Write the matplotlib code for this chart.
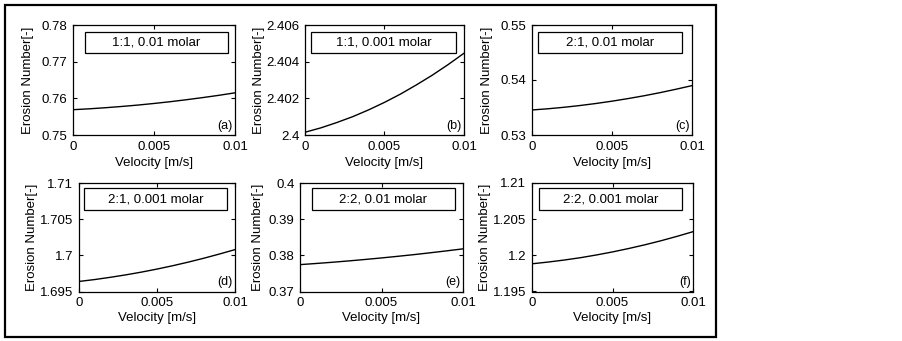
import matplotlib
matplotlib.use('Agg')
import matplotlib.pyplot as plt
from matplotlib.patches import Rectangle

plt.rcParams['font.family'] = ['Liberation Sans', 'DejaVu Sans']

# ---------------- data ----------------
velocity = [0.000, 0.001, 0.002, 0.003, 0.004, 0.005, 0.006, 0.007, 0.008, 0.009, 0.010]

en_a = [0.75690, 0.75714, 0.75744, 0.75778, 0.75816, 0.75860, 0.75908, 0.75962, 0.76020, 0.76082, 0.76150]
en_b = [2.40015, 2.40039, 2.40068, 2.40100, 2.40137, 2.40178, 2.40223, 2.40273, 2.40326, 2.40384, 2.40446]
en_c = [0.53455, 0.53477, 0.53504, 0.53536, 0.53573, 0.53615, 0.53662, 0.53713, 0.53770, 0.53832, 0.53898]
en_d = [1.69639, 1.69665, 1.69696, 1.69730, 1.69768, 1.69810, 1.69856, 1.69906, 1.69960, 1.70018, 1.70079]
en_e = [0.37743, 0.37775, 0.37809, 0.37846, 0.37886, 0.37928, 0.37973, 0.38020, 0.38071, 0.38124, 0.38179]
en_f = [1.19883, 1.19907, 1.19935, 1.19967, 1.20005, 1.20047, 1.20094, 1.20145, 1.20201, 1.20262, 1.20327]

series = [en_a, en_b, en_c, en_d, en_e, en_f]
box_labels = ['1:1, 0.01 molar', '1:1, 0.001 molar', '2:1, 0.01 molar',
              '2:1, 0.001 molar', '2:2, 0.01 molar', '2:2, 0.001 molar']
panel_tags = ['(a)', '(b)', '(c)', '(d)', '(e)', '(f)']

yticks_a = [0.75, 0.76, 0.77, 0.78]
yticks_b = [2.400, 2.402, 2.404, 2.406]
yticks_c = [0.53, 0.54, 0.55]
yticks_d = [1.695, 1.700, 1.705, 1.710]
yticks_e = [0.37, 0.38, 0.39, 0.40]
yticks_f = [1.195, 1.200, 1.205, 1.210]
yticks_all = [yticks_a, yticks_b, yticks_c, yticks_d, yticks_e, yticks_f]

ylabels_a = ['0.75', '0.76', '0.77', '0.78']
ylabels_b = ['2.4', '2.402', '2.404', '2.406']
ylabels_c = ['0.53', '0.54', '0.55']
ylabels_d = ['1.695', '1.7', '1.705', '1.71']
ylabels_e = ['0.37', '0.38', '0.39', '0.4']
ylabels_f = ['1.195', '1.2', '1.205', '1.21']
ylabels_all = [ylabels_a, ylabels_b, ylabels_c, ylabels_d, ylabels_e, ylabels_f]

xticks = [0, 0.005, 0.01]
xtick_labels = ['0', '0.005', '0.01']

x_label = 'Velocity [m/s]'
y_label = 'Erosion Number[-]'

# ---------------- layout (pixels) ----------------
W, H = 903, 341
# (left, right, top, bottom) of each axes
axes_px = [(73, 235, 25, 135), (305, 464, 25, 135), (532, 692, 25, 135),
           (79, 235, 183, 291.5), (300, 463, 183, 291.5), (532, 693, 183, 291.5)]
# box (x0, x1, ytop, ybottom) in pixels
box_px = [(85, 228, 32, 53), (311, 456, 32, 53), (538, 682, 32, 53),
          (84, 227, 188, 210), (312, 455, 188, 210), (539, 682, 188, 210)]
ylabel_cx = [28, 259, 487, 32, 258, 485]
xlabel_cy = [163, 163, 163, 318, 318, 318]

FS = 9.5

fig = plt.figure(figsize=(W / 100, H / 100), dpi=100)
fig.patch.set_facecolor('white')

for i in range(6):
    l, r, t, b = axes_px[i]
    ax = fig.add_axes([l / W, 1 - b / H, (r - l) / W, (b - t) / H])
    ax.plot(velocity, series[i], color='black', linewidth=1.0)
    ax.set_xlim(0, 0.01)
    ax.set_ylim(yticks_all[i][0], yticks_all[i][-1])
    ax.set_xticks(xticks)
    ax.set_xticklabels(xtick_labels, fontsize=FS)
    ax.set_yticks(yticks_all[i])
    ax.set_yticklabels(ylabels_all[i], fontsize=FS)
    ax.tick_params(direction='in', length=3, width=0.8, top=True, right=True, pad=4)
    for s in ax.spines.values():
        s.set_linewidth(0.9)
        s.set_color('black')

    ax.set_xlabel(x_label, fontsize=FS)
    ax.xaxis.label.set_verticalalignment('center')
    ax.xaxis.set_label_coords(0.5, (b - xlabel_cy[i]) / (b - t))
    ax.set_ylabel(y_label, fontsize=FS)
    ax.yaxis.label.set_verticalalignment('center')
    ax.yaxis.set_label_coords((ylabel_cx[i] - l) / (r - l), 0.5)

    bx0, bx1, byt, byb = box_px[i]
    fx0 = (bx0 - l) / (r - l)
    fx1 = (bx1 - l) / (r - l)
    fyb = (b - byb) / (b - t)
    fyt = (b - byt) / (b - t)
    ax.add_patch(Rectangle((fx0, fyb), fx1 - fx0, fyt - fyb, transform=ax.transAxes,
                           facecolor='white', edgecolor='black', linewidth=0.9, zorder=3))
    ax.text((fx0 + fx1) / 2, (fyb + fyt) / 2, box_labels[i], transform=ax.transAxes,
            ha='center', va='center', fontsize=FS, zorder=4)
    ax.text(0.985, 0.03, panel_tags[i], transform=ax.transAxes,
            ha='right', va='bottom', fontsize=FS - 0.5)

# outer frame
fig.add_artist(Rectangle((5 / W, 1 - 337 / H), (716 - 5) / W, (337 - 5) / H,
                         transform=fig.transFigure, fill=False, edgecolor='black',
                         linewidth=1.6))

fig.savefig('out.png', dpi=100, facecolor='white')
